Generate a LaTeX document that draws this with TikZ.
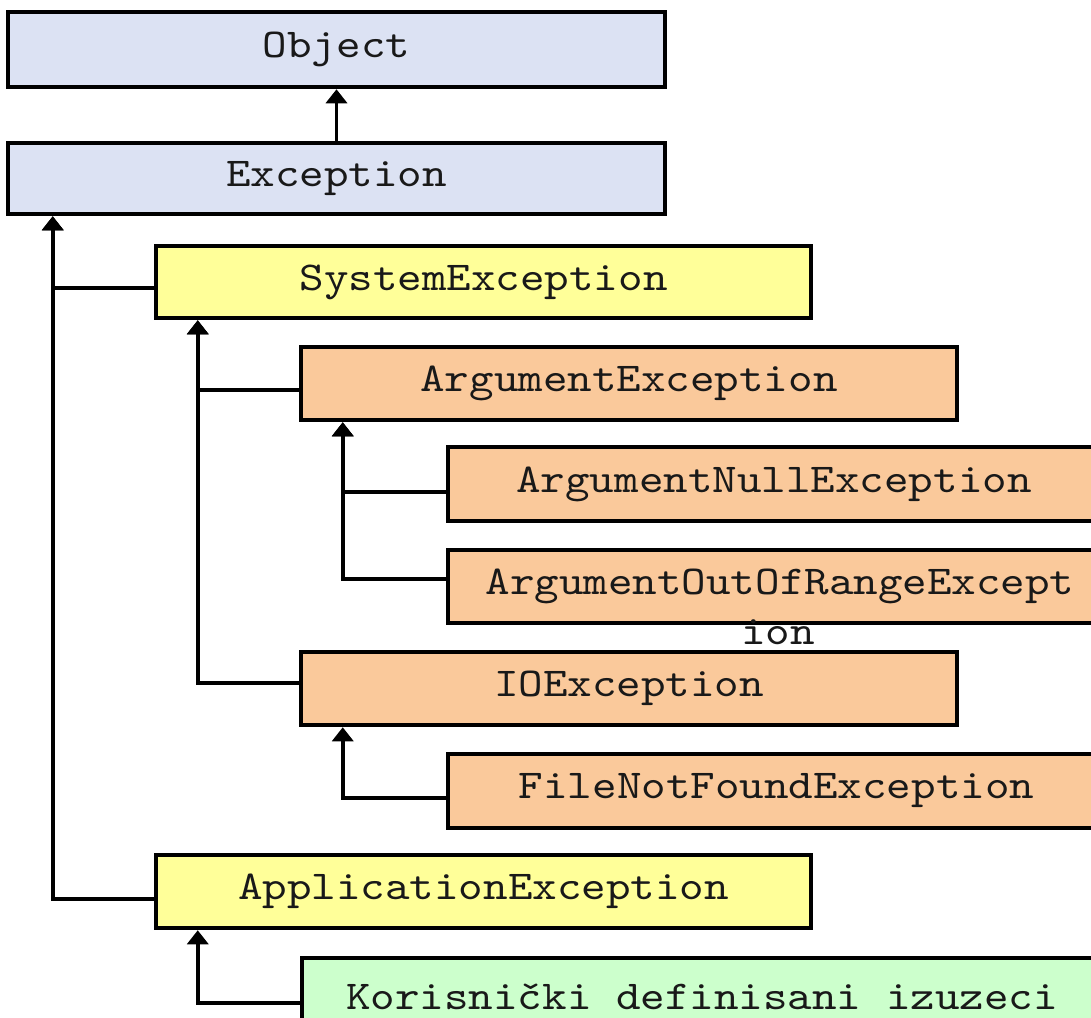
\documentclass[tikz,border=0pt]{standalone}
\usepackage{fontspec}
\setmonofont{lmmono10-regular.otf}[FakeStretch=1.14]
\usetikzlibrary{arrows.meta}

\definecolor{rootfill}{HTML}{DCE2F3}
\definecolor{midfill}{HTML}{FFFF99}
\definecolor{leaffill}{HTML}{FAC99B}
\definecolor{userfill}{HTML}{CCFFCC}

\tikzset{
  classbox/.style={draw=black, line width=4.5pt, rectangle, inner sep=0pt,
    font=\ttfamily\fontsize{41}{49}\selectfont, text=black!90},
  link/.style={line width=3.5pt, -{Triangle[width=21pt,length=14pt]}},
  overflowtext/.style={inner sep=0pt, font=\ttfamily\fontsize{41}{49}\selectfont, text=black!90}
}

\begin{document}
\begin{tikzpicture}[x=1pt,y=-1pt]
\useasboundingbox (0,0) rectangle (1091,1017);
\clip (0,0) rectangle (1091,1017);

% class boxes (centre, width, height)
\node[classbox, fill=rootfill, minimum width=657pt, minimum height=75pt] (obj) at (336.5,49.5) {Object};
\node[classbox, fill=rootfill, minimum width=657pt, minimum height=71pt] (exc) at (336.5,178.5) {Exception};
\node[classbox, fill=midfill, minimum width=655pt, minimum height=72pt] (sys) at (483.5,282) {SystemException};
\node[classbox, fill=leaffill, minimum width=656pt, minimum height=73pt] (arg) at (629,383.5) {ArgumentException};
\node[classbox, fill=leaffill, minimum width=652pt, minimum height=74pt] (argnull) at (774,484) {ArgumentNullException};
\node[classbox, fill=leaffill, minimum width=664pt, minimum height=73pt] (aor) at (780,586.5) {ArgumentOutOfRangeExcept};
\node[overflowtext] (aortail) at (778,632) {ion};
\node[classbox, fill=leaffill, minimum width=656pt, minimum height=73pt] (io) at (629,688.5) {IOException};
\node[classbox, fill=leaffill, minimum width=657pt, minimum height=74pt] (fnf) at (776.5,791) {FileNotFoundException};
\node[classbox, fill=midfill, minimum width=655pt, minimum height=73pt] (app) at (483.5,891.5) {ApplicationException};
\node[classbox, fill=userfill, minimum width=802pt, minimum height=84pt] (usr) at (703,1000) {};
\node[overflowtext] (usrtext) at (702,997) {Korisnički definisani izuzeci};

% inheritance connectors
\draw[link] (exc.north) -- (obj.south);
\draw[link] ([yshift=-6pt]sys.west) -| ([xshift=47pt]exc.south west);
\draw[link] ([yshift=-7.5pt]app.west) -| ([xshift=47pt]exc.south west);
\draw[link] ([yshift=-6.5pt]arg.west) -| ([xshift=44pt]sys.south west);
\draw[link] ([yshift=5.5pt]io.west) -| ([xshift=44pt]sys.south west);
\draw[link] ([yshift=-8pt]argnull.west) -| ([xshift=44pt]arg.south west);
\draw[link] ([yshift=7.5pt]aor.west) -| ([xshift=44pt]arg.south west);
\draw[link] ([yshift=-7pt]fnf.west) -| ([xshift=44pt]io.south west);
\draw[link] ([yshift=-3pt]usr.west) -| ([xshift=44pt]app.south west);
\end{tikzpicture}
\end{document}
